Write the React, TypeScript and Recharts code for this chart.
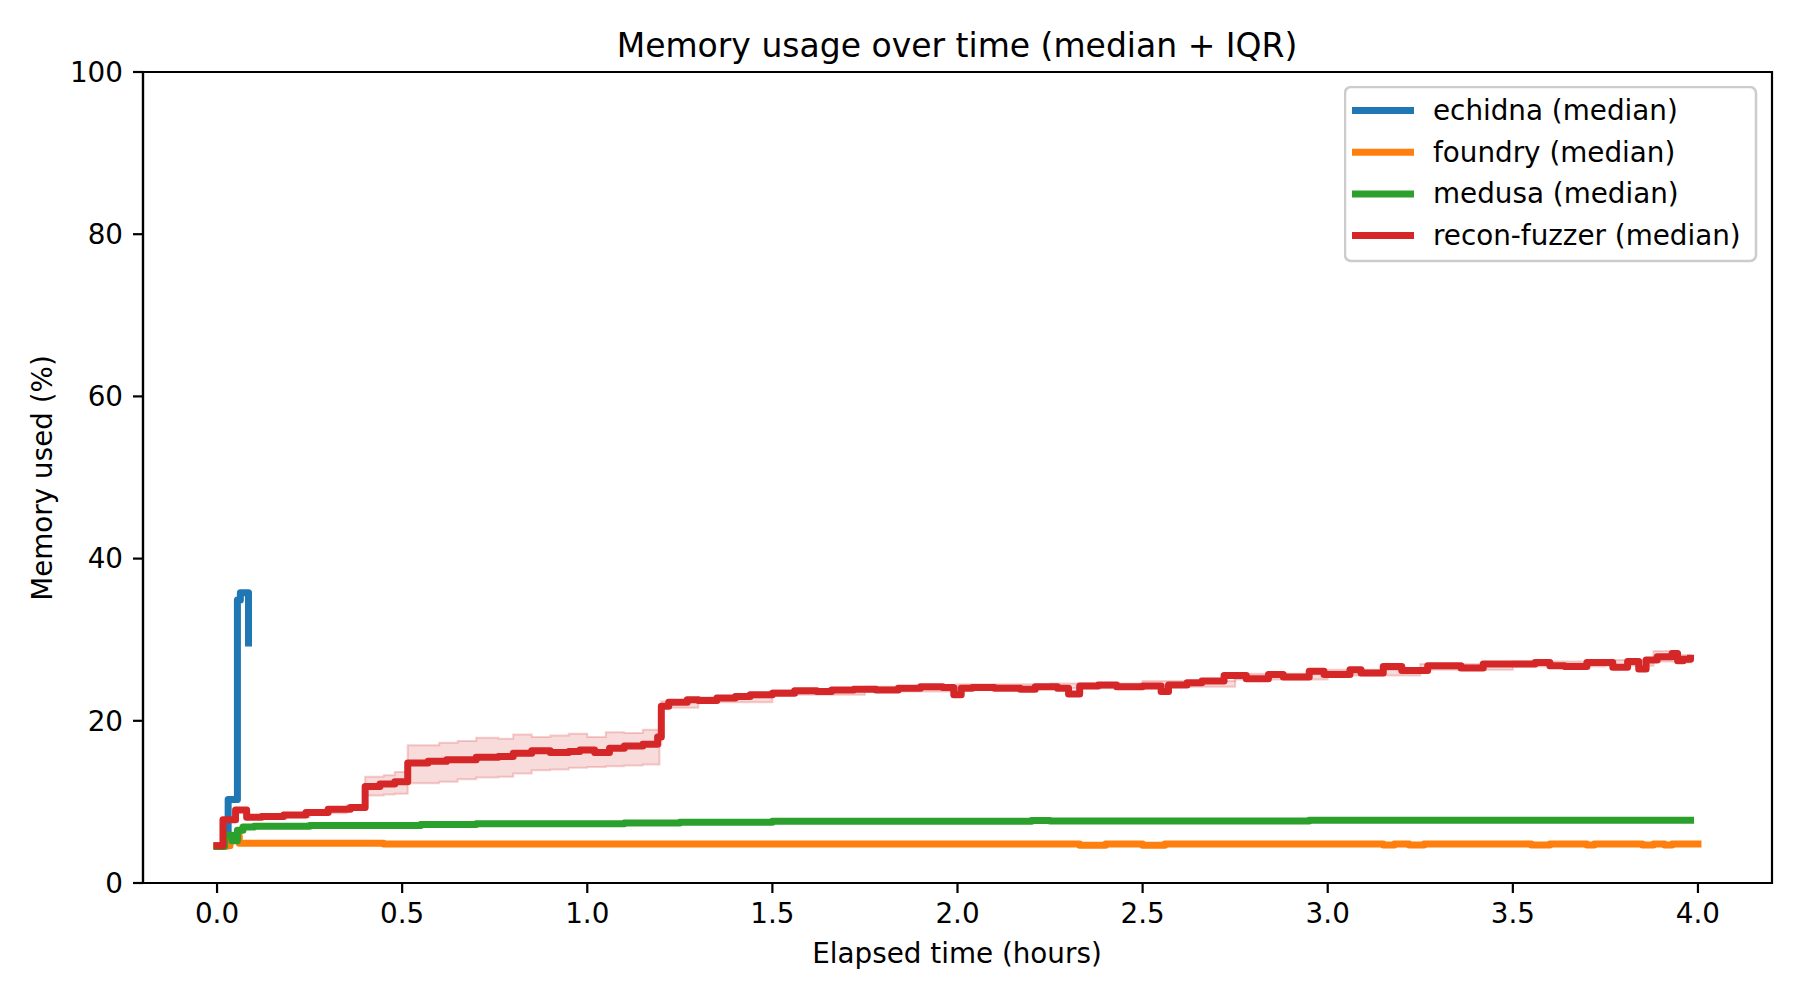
import React from 'react';
import { ComposedChart, Line, Area, XAxis, YAxis, ReferenceArea, Legend } from 'recharts';

const FONT = '"DejaVu Sans", "Liberation Sans", sans-serif';

// ---------- series meta ----------
const seriesNames = ['echidna (median)', 'foundry (median)', 'medusa (median)', 'recon-fuzzer (median)'];
const seriesColors = ['#1f77b4', '#ff7f0e', '#2ca02c', '#d62728'];

// ---------- ticks ----------
const xTicks = [0, 0.5, 1, 1.5, 2, 2.5, 3, 3.5, 4];
const yTicks = [0, 20, 40, 60, 80, 100];

// ---------- echidna ----------
const echidnaT = [0.0, 0.03, 0.055, 0.063, 0.085];
const echidnaV = [4.6, 10.3, 34.9, 35.8, 29.6];

// ---------- foundry ----------
const foundryT = [0.0, 0.035, 0.06, 0.45, 2.33, 2.4, 2.5, 2.56, 3.15, 3.18, 3.22, 3.26, 3.55, 3.6, 3.7, 3.72, 3.85, 3.88, 3.91, 3.93, 4.0];
const foundryV = [4.6, 5.8, 4.9, 4.8, 4.65, 4.8, 4.65, 4.8, 4.7, 4.8, 4.68, 4.8, 4.7, 4.8, 4.7, 4.8, 4.7, 4.8, 4.7, 4.8, 4.8];

// ---------- medusa ----------
const medusaT = [0.0, 0.02, 0.04, 0.055, 0.07, 0.1, 0.25, 0.55, 0.7, 1.1, 1.25, 1.5, 2.2, 2.25, 2.95, 3.98];
const medusaV = [4.5, 5.9, 5.2, 6.5, 6.9, 7.0, 7.1, 7.2, 7.3, 7.4, 7.5, 7.6, 7.7, 7.65, 7.75, 7.75];

// ---------- recon-fuzzer median ----------
const reconT = [
  0.0, 0.016, 0.05, 0.08, 0.12, 0.18, 0.24, 0.3, 0.36, 0.4, 0.44, 0.48, 0.515, 0.57, 0.62, 0.7, 0.76, 0.8,
  0.85, 0.9, 0.95, 0.98, 1.02, 1.06, 1.1, 1.15, 1.19, 1.2, 1.22, 1.27, 1.3, 1.35, 1.4, 1.44, 1.5, 1.56,
  1.62, 1.66, 1.72, 1.78, 1.84, 1.9, 1.96, 1.99, 2.01, 2.04, 2.1, 2.17, 2.21, 2.27, 2.3, 2.33, 2.38, 2.43,
  2.5, 2.55, 2.57, 2.62, 2.66, 2.72, 2.78, 2.84, 2.88, 2.95, 2.99, 3.06, 3.09, 3.15, 3.2, 3.27, 3.36, 3.42,
  3.5, 3.56, 3.6, 3.64, 3.7, 3.77, 3.81, 3.84, 3.86, 3.89, 3.93, 3.945, 3.96, 3.98,
];
const reconV = [
  4.6, 7.8, 9.0, 8.1, 8.2, 8.4, 8.7, 9.1, 9.3, 11.9, 12.2, 12.5, 14.8, 15.0, 15.2, 15.5, 15.6, 16.0,
  16.3, 16.1, 16.2, 16.4, 16.1, 16.6, 16.9, 17.1, 18.0, 21.8, 22.3, 22.6, 22.5, 22.8, 23.0, 23.2, 23.4, 23.7,
  23.6, 23.8, 23.9, 23.8, 24.0, 24.2, 24.1, 23.2, 24.0, 24.1, 24.0, 23.9, 24.2, 24.0, 23.3, 24.3, 24.4, 24.2,
  24.3, 23.6, 24.4, 24.7, 24.9, 25.6, 25.2, 25.7, 25.4, 26.1, 25.7, 26.3, 25.9, 26.7, 26.2, 26.8, 26.5, 27.0,
  27.0, 27.2, 26.8, 26.7, 27.2, 26.6, 27.3, 26.4, 27.5, 27.9, 28.3, 27.4, 27.6, 27.7,
];

// ---------- recon-fuzzer IQR ----------
const bandT = [
  0.0, 0.016, 0.05, 0.08, 0.15, 0.25, 0.35, 0.4, 0.45, 0.48, 0.515, 0.6, 0.65, 0.7, 0.76, 0.8, 0.85, 0.9,
  0.95, 1.0, 1.05, 1.1, 1.15, 1.195, 1.2, 1.3, 1.5, 1.75, 2.0, 2.25, 2.5, 2.75, 3.0, 3.25, 3.5, 3.75, 3.88,
  3.94, 3.98,
];
const bandLow = [
  4.5, 7.6, 8.8, 8.0, 8.1, 8.6, 9.2, 10.8, 10.9, 11.0, 12.3, 12.5, 12.8, 13.0, 13.1, 13.5, 13.9, 14.0,
  14.2, 14.3, 14.4, 14.5, 14.6, 17.0, 21.6, 22.3, 23.2, 23.6, 23.9, 24.0, 24.2, 25.1, 25.6, 26.3, 26.7, 26.8, 27.3,
  27.2, 27.4,
];
const bandHigh = [
  4.7, 8.0, 9.2, 8.4, 8.4, 9.0, 9.6, 13.1, 13.3, 13.7, 17.0, 17.3, 17.5, 17.9, 17.8, 18.3, 18.0, 18.2,
  18.4, 18.0, 18.6, 18.5, 18.9, 19.0, 22.4, 22.9, 23.8, 24.2, 24.5, 24.6, 24.9, 25.8, 26.3, 27.0, 27.3, 27.5, 28.6,
  28.1, 28.0,
];

const zip = (ts: number[], vs: number[]) => ts.map((t, i) => ({ t, v: vs[i] }));
const echidnaData = zip(echidnaT, echidnaV);
const foundryData = zip(foundryT, foundryV);
const medusaData = zip(medusaT, medusaV);
const reconData = zip(reconT, reconV);
const bandData = bandT.map((t, i) => ({ t, range: [bandLow[i], bandHigh[i]] }));

const seriesData = [echidnaData, foundryData, medusaData, reconData];

const W = 1800;
const H = 1000;
const LINE_W = 7;

const renderLegend = () => (
  <svg width={414} height={177} style={{ display: 'block' }}>
    <rect x={1} y={1} width={411} height={174} rx={6} ry={6} fill="#ffffff" fillOpacity={0.8} stroke="#cccccc" strokeWidth={2.5} />
    {seriesNames.map((name, i) => {
      const cy = 24.5 + i * 41.7;
      return (
        <g key={name}>
          <line x1={11.5} x2={66.5} y1={cy} y2={cy} stroke={seriesColors[i]} strokeWidth={LINE_W} strokeLinecap="square" />
          <text x={89} y={cy + 9.5} fontFamily={FONT} fontSize={27.8} fill="#000">
            {name}
          </text>
        </g>
      );
    })}
  </svg>
);

export default function App() {
  const axisStroke = { stroke: '#000', strokeWidth: 2.2 };
  const tickStyle = { fill: '#000', fontSize: 27.8, fontFamily: FONT };
  return (
    <div style={{ position: 'absolute', left: 0, top: 0, width: W, height: H, background: '#fff' }}>
      <ComposedChart width={W} height={H} margin={{ top: 72, right: 28, left: 0, bottom: 0 }}>
        <XAxis
          dataKey="t"
          type="number"
          domain={[-0.2, 4.2]}
          ticks={xTicks}
          interval={0}
          allowDataOverflow
          tickFormatter={(v: number) => v.toFixed(1)}
          height={117}
          tickSize={10}
          tickMargin={10}
          axisLine={axisStroke}
          tickLine={axisStroke}
          tick={tickStyle}
        />
        <YAxis
          type="number"
          domain={[0, 100]}
          ticks={yTicks}
          interval={0}
          allowDataOverflow
          width={143}
          tickSize={10}
          tickMargin={10}
          axisLine={axisStroke}
          tickLine={axisStroke}
          tick={tickStyle}
        />
        <ReferenceArea x1={-0.2} x2={4.2} y1={0} y2={100} fill="none" stroke="#000" strokeWidth={2.2} ifOverflow="visible" />
        <Area
          data={bandData}
          dataKey="range"
          type="stepAfter"
          fill="#d62728"
          fillOpacity={0.17}
          stroke="#d62728"
          strokeOpacity={0.22}
          strokeWidth={2}
          isAnimationActive={false}
          dot={false}
          activeDot={false}
          legendType="none"
        />
        {seriesData.map((d, i) => (
          <Line
            key={seriesNames[i]}
            data={d}
            dataKey="v"
            name={seriesNames[i]}
            type="stepAfter"
            stroke={seriesColors[i]}
            strokeWidth={LINE_W}
            strokeLinejoin="round"
            strokeLinecap="square"
            dot={false}
            activeDot={false}
            isAnimationActive={false}
          />
        ))}
        <Legend
          layout="horizontal"
          align="center"
          verticalAlign="middle"
          content={renderLegend}
          wrapperStyle={{ left: 1344, top: 86, width: 414, height: 177, bottom: 'auto', right: 'auto' }}
        />
      </ComposedChart>
      <svg width={W} height={H} style={{ position: 'absolute', left: 0, top: 0, pointerEvents: 'none' }}>
        <text x={957} y={57} textAnchor="middle" fontFamily={FONT} fontSize={33} fill="#000">
          Memory usage over time (median + IQR)
        </text>
        <text x={957} y={963} textAnchor="middle" fontFamily={FONT} fontSize={27.8} fill="#000">
          Elapsed time (hours)
        </text>
        <text x={52} y={478} textAnchor="middle" fontFamily={FONT} fontSize={27.8} fill="#000" transform="rotate(-90 52 478)">
          Memory used (%)
        </text>
      </svg>
    </div>
  );
}
